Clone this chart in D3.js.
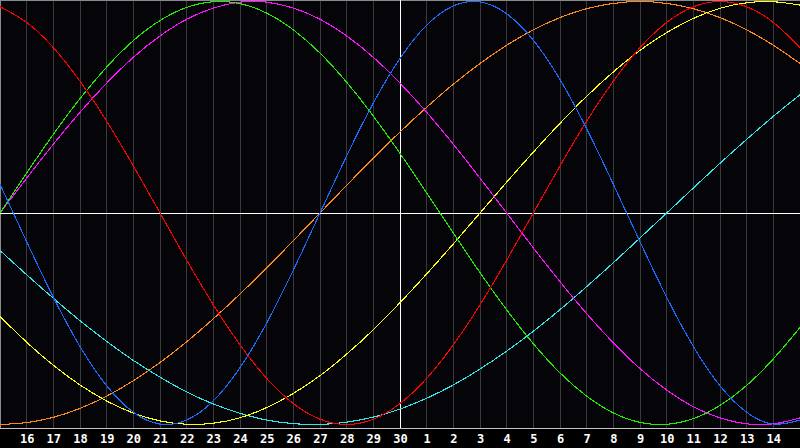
<!DOCTYPE html>
<html>
<head>
<meta charset="utf-8">
<script src="https://cdn.jsdelivr.net/npm/d3@7/dist/d3.min.js"></script>
<style>
  html, body { margin: 0; padding: 0; background: #000; overflow: hidden; }
  svg { display: block; }
</style>
</head>
<body>
<svg id="chart" width="800" height="448"></svg>
<script>
// Day index 0..30 (day 15 of the previous month .. day 15 of the next)
const dayLabels = [15,16,17,18,19,20,21,22,23,24,25,26,27,28,29,30,1,2,3,4,5,6,7,8,9,10,11,12,13,14,15];
const labelledDays = [1,2,3,4,5,6,7,8,9,10,11,12,13,14,15,16,17,18,19,20,21,22,23,24,25,26,27,28,29];
const todayIndex = 15;

// Values in percent (-100..100), read per day from the chart
const physical     = [13.6,-13.6,-39.8,-63.1,-81.7,-94.2,-99.8,-97.9,-88.8,-73.1,-52.0,-27.0,0,27.0,52.0,73.1,88.8,97.9,99.8,94.2,81.7,63.1,39.8,13.6,-13.6,-39.8,-63.1,-81.7,-94.2,-99.8,-97.9];
const emotional    = [97.5,90.1,78.2,62.3,43.4,22.3,0,-22.3,-43.4,-62.3,-78.2,-90.1,-97.5,-100,-97.5,-90.1,-78.2,-62.3,-43.4,-22.3,0,22.3,43.4,62.3,78.2,90.1,97.5,100,97.5,90.1,78.2];
const intellectual = [0,18.9,37.2,54.1,69.0,81.5,91.0,97.2,99.9,99.0,94.5,86.6,75.6,61.8,45.8,28.2,9.5,-9.5,-28.2,-45.8,-61.8,-75.6,-86.6,-94.5,-99.0,-99.9,-97.2,-91.0,-81.5,-69.0,-54.1];
const intuitive    = [0,16.5,32.5,47.6,61.4,73.6,83.7,91.6,96.9,99.7,99.7,96.9,91.6,83.7,73.6,61.4,47.6,32.5,16.5,0,-16.5,-32.5,-47.6,-61.4,-73.6,-83.7,-91.6,-96.9,-99.7,-99.7,-96.9];
const aesthetic    = [-48.9,-61.1,-72.0,-81.3,-88.9,-94.6,-98.3,-99.9,-99.4,-96.8,-92.0,-85.3,-76.9,-66.7,-55.2,-42.4,-28.8,-14.6,0,14.6,28.8,42.4,55.2,66.7,76.9,85.3,92.0,96.8,99.4,99.9,98.3];
const awareness    = [-100,-99.1,-96.6,-92.4,-86.6,-79.3,-70.7,-60.9,-50,-38.3,-25.9,-13.1,0,13.1,25.9,38.3,50,60.9,70.7,79.3,86.6,92.4,96.6,99.1,100,99.1,96.6,92.4,86.6,79.3,70.7];
const spiritual    = [-17.7,-29.2,-40.3,-50.9,-60.7,-69.7,-77.6,-84.6,-90.3,-94.7,-97.9,-99.6,-100,-98.9,-96.5,-92.7,-87.6,-81.3,-73.8,-65.3,-55.9,-45.7,-34.8,-23.5,-11.8,0,11.8,23.5,34.8,45.7,55.9];

const seriesNames  = ["awareness","spiritual","aesthetic","intuitive","intellectual","emotional","physical"];
const seriesValues = [awareness, spiritual, aesthetic, intuitive, intellectual, emotional, physical];
const seriesColors = ["#ff8a1c","#30e8e8","#ffff10","#ff10ff","#20f000","#ff0000","#1a6cff"];

const W = 800, H = 448;
const plotBottom = 428;

const svg = d3.select("#chart");

const x = d3.scaleLinear().domain([0, 30]).range([0, W]);
const y = d3.scaleLinear().domain([-100, 100]).range([424.5, 1.5]);

// backgrounds
svg.append("rect").attr("x",0).attr("y",0).attr("width",W).attr("height",H).attr("fill","#000");
svg.append("rect").attr("x",0).attr("y",0).attr("width",W).attr("height",plotBottom).attr("fill","#050409");

// vertical day grid
svg.append("g").selectAll("line")
  .data(labelledDays)
  .join("line")
  .attr("x1", d => Math.floor(x(d)) + 0.5)
  .attr("x2", d => Math.floor(x(d)) + 0.5)
  .attr("y1", 1).attr("y2", plotBottom)
  .attr("stroke", "#3a3a3c").attr("stroke-width", 1)
  .attr("shape-rendering", "crispEdges");

// borders
svg.append("line").attr("x1",0).attr("x2",W).attr("y1",0.5).attr("y2",0.5)
  .attr("stroke","#8a8a8a").attr("shape-rendering","crispEdges");
svg.append("line").attr("x1",0.5).attr("x2",0.5).attr("y1",0).attr("y2",plotBottom)
  .attr("stroke","#8a8a8a").attr("shape-rendering","crispEdges");
svg.append("line").attr("x1",0).attr("x2",W).attr("y1",plotBottom + 0.5).attr("y2",plotBottom + 0.5)
  .attr("stroke","#c4c4c4").attr("shape-rendering","crispEdges");

// centre lines (today and zero)
svg.append("line").attr("x1",0).attr("x2",W).attr("y1",Math.floor(y(0)) + 0.5).attr("y2",Math.floor(y(0)) + 0.5)
  .attr("stroke","#ffffff").attr("shape-rendering","crispEdges");
svg.append("line").attr("x1",Math.floor(x(todayIndex)) + 0.5).attr("x2",Math.floor(x(todayIndex)) + 0.5)
  .attr("y1",0).attr("y2",plotBottom)
  .attr("stroke","#ffffff").attr("shape-rendering","crispEdges");

// curves
const line = d3.line()
  .x((d, i) => x(i))
  .y(d => y(d))
  .curve(d3.curveNatural);

svg.append("g").selectAll("path")
  .data(seriesValues)
  .join("path")
  .attr("d", d => line(d))
  .attr("fill", "none")
  .attr("stroke", (d, i) => seriesColors[i])
  .attr("stroke-width", 1.1)
  .attr("shape-rendering", "crispEdges");

// day labels
const axis = d3.axisBottom(x)
  .tickValues(labelledDays)
  .tickSize(0)
  .tickFormat(d => dayLabels[d]);

const ax = svg.append("g").attr("transform", `translate(0,${plotBottom})`).call(axis);
ax.select(".domain").remove();
ax.selectAll("text")
  .attr("y", 15)
  .attr("dy", 0)
  .attr("fill", "#ffffff")
  .style("font-family", "'DejaVu Sans Mono', monospace")
  .style("font-weight", "bold")
  .style("font-size", "12px");
</script>
</body>
</html>
